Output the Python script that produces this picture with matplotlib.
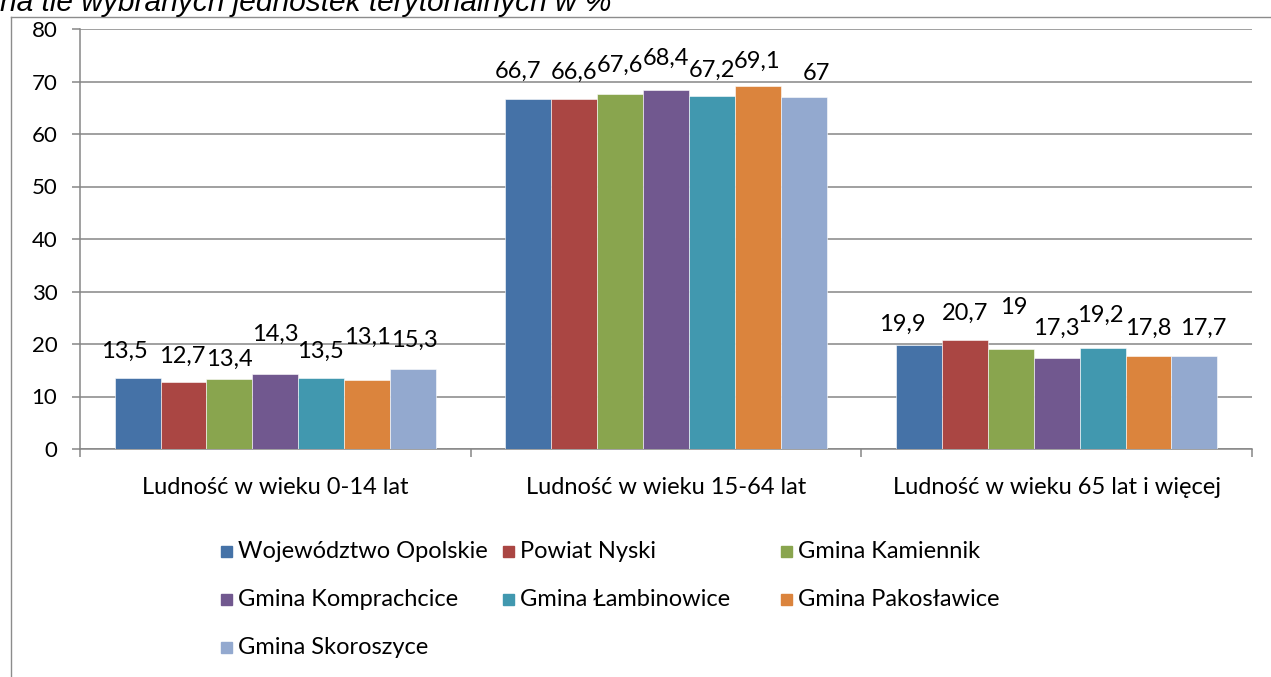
import matplotlib
matplotlib.use("Agg")
import matplotlib.pyplot as plt
import numpy as np
from matplotlib.patches import Rectangle
from matplotlib.lines import Line2D

# data
categories = ["Ludność w wieku 0-14 lat",
              "Ludność w wieku 15-64 lat",
              "Ludność w wieku 65 lat i więcej"]
series_names = ["Województwo Opolskie", "Powiat Nyski", "Gmina Kamiennik",
                "Gmina Komprachcice", "Gmina Łambinowice", "Gmina Pakosławice",
                "Gmina Skoroszyce"]
wojewodztwo_opolskie = [13.5, 66.7, 19.9]
powiat_nyski = [12.7, 66.6, 20.7]
gmina_kamiennik = [13.4, 67.6, 19.0]
gmina_komprachcice = [14.3, 68.4, 17.3]
gmina_lambinowice = [13.5, 67.2, 19.2]
gmina_pakoslawice = [13.1, 69.1, 17.8]
gmina_skoroszyce = [15.3, 67.0, 17.7]
y_ticks = [0, 10, 20, 30, 40, 50, 60, 70, 80]
title = "na tle wybranych jednostek terytorialnych w %"

values = [wojewodztwo_opolskie, powiat_nyski, gmina_kamiennik,
          gmina_komprachcice, gmina_lambinowice, gmina_pakoslawice,
          gmina_skoroszyce]

# style
colors = ["#4572A7", "#AA4643", "#89A54E", "#71588F",
          "#4198AF", "#DB843D", "#93A9CF"]
grey = "#868686"
num_font = "Lato"
fsize = 17

# label nudges in pixels (dx, height of digit centre above bar top)
label_nudge = [
    [(-13, 29), (-10, 29), (-17, 22)],
    [(-1, 28), (0, 29), (0, 29)],
    [(0, 21), (0, 31), (3, 44)],
    [(0, 42), (0, 34), (0, 32)],
    [(-1, 29), (0, 28), (-2, 35)],
    [(0, 45), (-1, 27), (0, 29)],
    [(1, 30), (13, 26), (9, 30)],
]

W, H = 1271, 677
fig = plt.figure(figsize=(W / 100, H / 100), dpi=100)

# outer chart frame (cut by the picture edge)
fig.add_artist(Line2D([11 / W, 1], [1 - 17 / H, 1 - 17 / H],
                      transform=fig.transFigure, color="#8c8c8c", lw=1))
fig.add_artist(Line2D([11 / W, 11 / W], [0, 1 - 17 / H],
                      transform=fig.transFigure, color="#8c8c8c", lw=1))

fig.text(0 / W, 1 - 11 / H, title, fontsize=21.5, style="italic",
         family="Liberation Sans", va="baseline", ha="left")

ax = fig.add_axes([80 / W, 1 - 449 / H, (1252 - 80) / W, (449 - 29) / H])

n = len(values)
width = 0.1175
xc = np.arange(len(categories))
for i, vals in enumerate(values):
    x = xc + (i - (n - 1) / 2) * width
    ax.bar(x, vals, width, color=colors[i], edgecolor="white",
           linewidth=0.4, zorder=3)
    for j, v in enumerate(vals):
        lbl = f"{v:g}".replace(".", ",")
        dx, dy = label_nudge[i][j]
        ax.annotate(lbl, (x[j], v), xytext=(dx, dy - 8.5),
                    textcoords="offset pixels", ha="center", va="baseline",
                    fontsize=fsize, family=num_font, color="black", zorder=4)

ax.set_xlim(-0.5, len(categories) - 0.5)
ax.set_ylim(0, 80)
ax.set_yticks(y_ticks)
ax.yaxis.grid(True, color=grey, lw=1.1)
ax.set_axisbelow(True)

for s in ["top", "right"]:
    ax.spines[s].set_visible(False)
for s in ["left", "bottom"]:
    ax.spines[s].set_color(grey)
    ax.spines[s].set_linewidth(1.1)

ax.tick_params(axis="y", direction="out", length=5.8, width=1.1,
               color=grey, labelsize=16, pad=10.5)
for t in ax.get_yticklabels():
    t.set_family(num_font)

ax.set_xticks(np.arange(len(categories) + 1) - 0.5)
ax.set_xticklabels([])
ax.tick_params(axis="x", which="major", direction="out", length=5.8,
               width=1.1, color=grey)
ax.set_xticks(xc, minor=True)
ax.set_xticklabels(categories, minor=True)
ax.tick_params(axis="x", which="minor", length=0, labelsize=fsize, pad=20)
for t in ax.get_xticklabels(minor=True):
    t.set_family(num_font)

# legend, laid out like the original (3 columns)
col_x = [221, 503, 781]
row_y = [551, 599, 647]
box = 11
for i, name in enumerate(series_names):
    mx = col_x[i % 3]
    my = row_y[i // 3]
    fig.add_artist(Rectangle((mx / W, 1 - (my + box / 2) / H), box / W, box / H,
                             transform=fig.transFigure, color=colors[i]))
    fig.text((mx + 17) / W, 1 - my / H, name, fontsize=fsize, family=num_font,
             va="center", ha="left")

fig.savefig("out.png", dpi=100)
